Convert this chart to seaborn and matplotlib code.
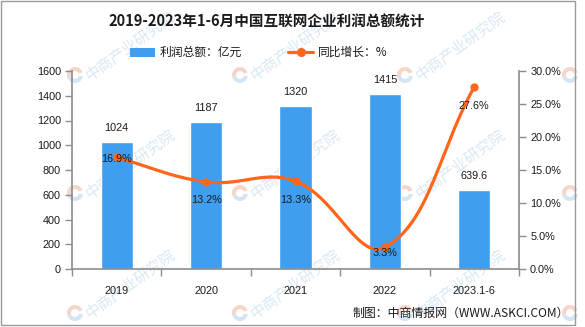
import numpy as np
import matplotlib
matplotlib.use("Agg")
import matplotlib.pyplot as plt
import seaborn as sns
import pandas as pd
from matplotlib.patches import Rectangle, Wedge
from matplotlib.lines import Line2D

# ---- data ----
years = ["2019", "2020", "2021", "2022", "2023.1-6"]
profit = [1024, 1187, 1320, 1415, 639.6]
growth = [16.9, 13.2, 13.3, 3.3, 27.6]
profit_labels = ["1024", "1187", "1320", "1415", "639.6"]
growth_labels = ["16.9%", "13.2%", "13.3%", "3.3%", "27.6%"]
left_ticks = [0, 200, 400, 600, 800, 1000, 1200, 1400, 1600]
right_ticks = [0, 5, 10, 15, 20, 25, 30]
right_tick_labels = ["0.0%", "5.0%", "10.0%", "15.0%", "20.0%", "25.0%", "30.0%"]

title = "2019-2023年1-6月中国互联网企业利润总额统计"
legend_bar = "利润总额：亿元"
legend_line = "同比增长：%"
source = "制图：中商情报网（WWW.ASKCI.COM）"
watermark = "中商产业研究院"

# ---- style ----
BAR = "#3f9ef0"
LINE = "#ff661a"
AXIS = "#8c8c8c"
TXT = "#1a1a1a"
NUM_FONT = ["Liberation Sans", "DejaVu Sans"]
CJK_FONT = ["Noto Sans CJK SC", "DejaVu Sans"]
# vertical offset (px) of each growth label below its point
growth_label_drop = [2, 18, 19, 6, 19]

W, H = 585, 327
sns.set_theme(style="white")
plt.rcParams["font.family"] = CJK_FONT

fig = plt.figure(figsize=(W / 100, H / 100), dpi=100)
fig.patch.set_facecolor("white")


def px(x, y):
    """image pixel (top-left origin) -> figure fraction"""
    return x / W, 1 - y / H


# faint background watermark: logo rings everywhere, text where it fits
for lx in [75, 240, 405, 570]:
    for ly in [75, 193, 313]:
        cx, cy = lx, H - ly
        fig.patches.append(Wedge((cx, cy), 8, 20, 200, width=4, transform=None,
                                 facecolor="#f6d5c8", edgecolor="none", zorder=-2))
        fig.patches.append(Wedge((cx, cy), 8, 200, 350, width=4, transform=None,
                                 facecolor="#d3e4f2", edgecolor="none", zorder=-2))
        if lx < 500:
            fig.text((lx + 12) / W, 1 - (ly + 2) / H, watermark, fontsize=11,
                     color="#d9e8f4", rotation=36, rotation_mode="anchor",
                     ha="left", va="center", zorder=-2, family=CJK_FONT)

# outer frame
fig.patches.append(Rectangle(px(1, 325), 574 / W, 324 / H, transform=fig.transFigure,
                             facecolor="none", edgecolor="#9a9a9a", lw=1, zorder=5))

ax = fig.add_axes([72 / W, 1 - 269 / H, 447 / W, 198 / H])
ax.patch.set_alpha(0)

df = pd.DataFrame({"year": years, "profit": profit})
sns.barplot(data=df, x="year", y="profit", color=BAR, saturation=1, width=0.36,
            ax=ax, zorder=2)
ax.set_xlim(-0.5, 4.5)
ax.set_ylim(0, 1600)
ax.set_xlabel("")
ax.set_ylabel("")

# x axis: ticks on category boundaries, labels at centres
ax.set_xticks(np.arange(-0.5, 5, 1.0))
ax.set_xticklabels([])
ax.set_xticks(np.arange(5), minor=True)
ax.set_xticklabels(years, minor=True, fontsize=7.8, color=TXT, family=NUM_FONT)
ax.tick_params(axis="x", which="major", direction="out", length=5, width=1, color=AXIS, bottom=True)
ax.tick_params(axis="x", which="minor", length=0, pad=12, bottom=True)

ax.set_yticks(left_ticks)
ax.set_yticklabels([str(t) for t in left_ticks], fontsize=7.8, color=TXT, family=NUM_FONT)
ax.tick_params(axis="y", direction="out", length=5, width=1, color=AXIS, pad=3, left=True)

for s in ["top", "right"]:
    ax.spines[s].set_visible(False)
for s in ["left", "bottom"]:
    ax.spines[s].set_color(AXIS)
    ax.spines[s].set_linewidth(1.2)

for i, v in enumerate(profit):
    ax.annotate(profit_labels[i], (i, v), xytext=(0, 10), textcoords="offset points",
                ha="center", va="center", fontsize=7.8, color=TXT, family=NUM_FONT)

# secondary axis for growth rate
ax2 = ax.twinx()
ax2.set_ylim(0, 30)
ax2.set_xlim(-0.5, 4.5)
ax2.set_yticks(right_ticks)
ax2.set_yticklabels(right_tick_labels, fontsize=7.8, color=TXT, family=NUM_FONT)
ax2.tick_params(axis="y", direction="out", length=5, width=1, color=AXIS, pad=3, right=True)
for s in ["top", "left", "bottom"]:
    ax2.spines[s].set_visible(False)
ax2.spines["right"].set_color(AXIS)
ax2.spines["right"].set_linewidth(1.2)


def smooth_path(p, smooth=0.4, n=50):
    """Bezier smoothing through screen-space points."""
    N = len(p)
    cps = []
    for i in range(N):
        prev = p[i - 1] if i > 0 else p[i]
        nxt = p[i + 1] if i < N - 1 else p[i]
        v = (nxt - prev) * smooth
        d0 = np.hypot(*(p[i] - prev))
        d1 = np.hypot(*(nxt - p[i]))
        r = d1 / (d0 + d1) if (d0 + d1) > 0 else 0.5
        cps.append((p[i] - v * (1 - r), p[i] + v * r))
    t = np.linspace(0, 1, n)[:, None]
    out = [p[0][None, :]]
    for i in range(N - 1):
        a, b, c, d = p[i], cps[i][1], cps[i + 1][0], p[i + 1]
        seg = (1 - t) ** 3 * a + 3 * (1 - t) ** 2 * t * b + 3 * (1 - t) * t ** 2 * c + t ** 3 * d
        out.append(seg[1:])
    return np.vstack(out)


xs = np.arange(len(growth), dtype=float)
screen = ax2.transData.transform(np.column_stack([xs, growth]))
curve = ax2.transData.inverted().transform(smooth_path(screen))
ax2.plot(curve[:, 0], curve[:, 1], color=LINE, lw=2.3, solid_capstyle="round", zorder=3)
sns.scatterplot(x=xs, y=growth, ax=ax2, color=LINE, s=36, edgecolor=LINE, linewidth=0,
                zorder=4, legend=False)
ax2.set_xlim(-0.5, 4.5)
ax2.set_ylim(0, 30)

for i, g in enumerate(growth):
    ax2.annotate(growth_labels[i], (i, g), xytext=(0, -growth_label_drop[i] * 0.72),
                 textcoords="offset points", ha="center", va="center",
                 fontsize=7.8, color=TXT, family=NUM_FONT, zorder=5)

# title
fig.text(*px(267, 22), title, ha="center", va="center", fontsize=10.5,
         fontweight="bold", color=TXT, family=CJK_FONT)

# legend
fig.patches.append(Rectangle(px(130, 57), 25 / W, 9 / H, transform=fig.transFigure,
                             facecolor=BAR, edgecolor="none"))
fig.text(*px(160, 52), legend_bar, ha="left", va="center", fontsize=8.5, color=TXT,
         family=CJK_FONT)
x0, y0 = px(288, 52)
x1, _ = px(313, 52)
xm, _ = px(300.5, 52)
fig.lines.append(Line2D([x0, x1], [y0, y0], transform=fig.transFigure, color=LINE, lw=2.3))
fig.lines.append(Line2D([xm], [y0], transform=fig.transFigure, color=LINE, marker="o",
                        markersize=5.5, lw=0))
fig.text(*px(318, 52), legend_line, ha="left", va="center", fontsize=8.5, color=TXT,
         family=CJK_FONT)

# source note
fig.text(*px(569, 313), source, ha="right", va="center", fontsize=8.6, color=TXT,
         family=CJK_FONT)

fig.savefig("out.png", dpi=100, facecolor="white")
